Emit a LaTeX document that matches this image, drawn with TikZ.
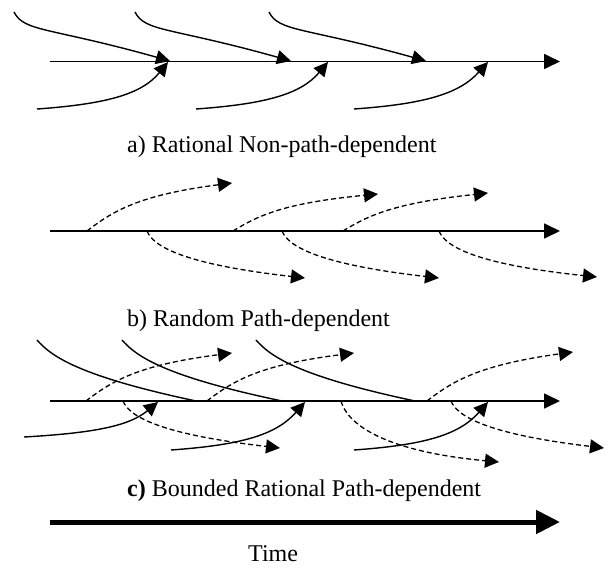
\documentclass[tikz,border=0pt]{standalone}
\usepackage{fontspec}
\setmainfont{Liberation Serif}
\usetikzlibrary{arrows.meta}
\newcommand\crv[5]{\draw[#1,shift={(#2)}] (0,0) .. controls (#3) and (#4) .. (#5);}
\begin{document}
\begin{tikzpicture}[x=1pt,y=-1pt,
  axisline/.style={line width=1.7pt,-{Triangle[length=16pt,width=15pt]}},
  timeline/.style={line width=5pt,-{Triangle[length=24pt,width=23pt]}},
  solidarrow/.style={line width=1.4pt,-{Triangle[length=14pt,width=14pt]}},
  solidcurve/.style={line width=1.4pt},
  dasharrow/.style={line width=1.3pt,dash pattern=on 5pt off 3pt,-{Triangle[length=14pt,width=14pt]}},
  lbl/.style={font=\fontsize{24}{28}\selectfont,inner sep=0pt,anchor=base west}]
\useasboundingbox (0,0) rectangle (608,570);
% ---------- panel a ----------
\coordinate (a0) at (50,61.5);
\coordinate (a1) at (560,61.5);
\draw[axisline] (a0) -- (a1);
\crv{solidarrow}{14,12}{10,20}{35,15}{156,49}
\crv{solidarrow}{135,12}{10,20}{35,15}{156,49}
\crv{solidarrow}{269,12}{10,20}{35,15}{157,49}
\crv{solidarrow}{37,109}{70,-5}{105,-15}{131,-47}
\crv{solidarrow}{196,109}{70,-5}{105,-15}{132,-47}
\crv{solidarrow}{354,109}{70,-5}{105,-15}{134,-47}
\node[lbl] (la) at (127,152) {a) Rational Non-path-dependent};
% ---------- panel b ----------
\coordinate (b0) at (50,231);
\coordinate (b1) at (560,231);
\draw[axisline] (b0) -- (b1);
\crv{dasharrow}{87,231}{26,-20}{52,-36}{145,-48}
\crv{dasharrow}{233,231}{26,-16}{52,-28}{145,-37}
\crv{dasharrow}{343,231}{26,-16}{52,-28}{145,-38}
\crv{dasharrow}{147,231}{6,15}{35,33}{158,47}
\crv{dasharrow}{282,231}{6,15}{35,33}{157,47}
\crv{dasharrow}{439,231}{6,15}{35,33}{158,46}
\node[lbl] (lb) at (127,326) {b) Random Path-dependent};
% ---------- panel c ----------
\coordinate (c0) at (50,401);
\coordinate (c1) at (560,401);
\draw[axisline] (c0) -- (c1);
\crv{solidcurve}{37,340}{14,16}{41,36}{159,61}
\crv{solidcurve}{122,340}{14,16}{41,36}{160,61}
\crv{solidcurve}{256,340}{14,16}{41,36}{159,61}
\crv{solidarrow}{24,437}{70,-4}{105,-11}{134,-35}
\crv{solidarrow}{171,450}{70,-5}{105,-15}{134,-48}
\crv{solidarrow}{354,450}{70,-5}{105,-15}{134,-48}
\crv{dasharrow}{86,401}{26,-20}{52,-36}{146,-48}
\crv{dasharrow}{207,401}{26,-20}{52,-36}{147,-48}
\crv{dasharrow}{427,401}{26,-20}{52,-36}{146,-49}
\crv{dasharrow}{123,401}{6,15}{35,33}{157,47}
\crv{dasharrow}{341,401}{6,22}{40,50}{158,61}
\crv{dasharrow}{451,401}{6,15}{35,33}{153,47}
\node[lbl] (lc) at (127,496) {{\bfseries c)} Bounded Rational Path-dependent};
% ---------- time ----------
\coordinate (t0) at (50,522);
\coordinate (t1) at (560,522);
\draw[timeline] (t0) -- (t1);
\node[lbl] (lt) at (248,561) {Time};
\end{tikzpicture}
\end{document}
